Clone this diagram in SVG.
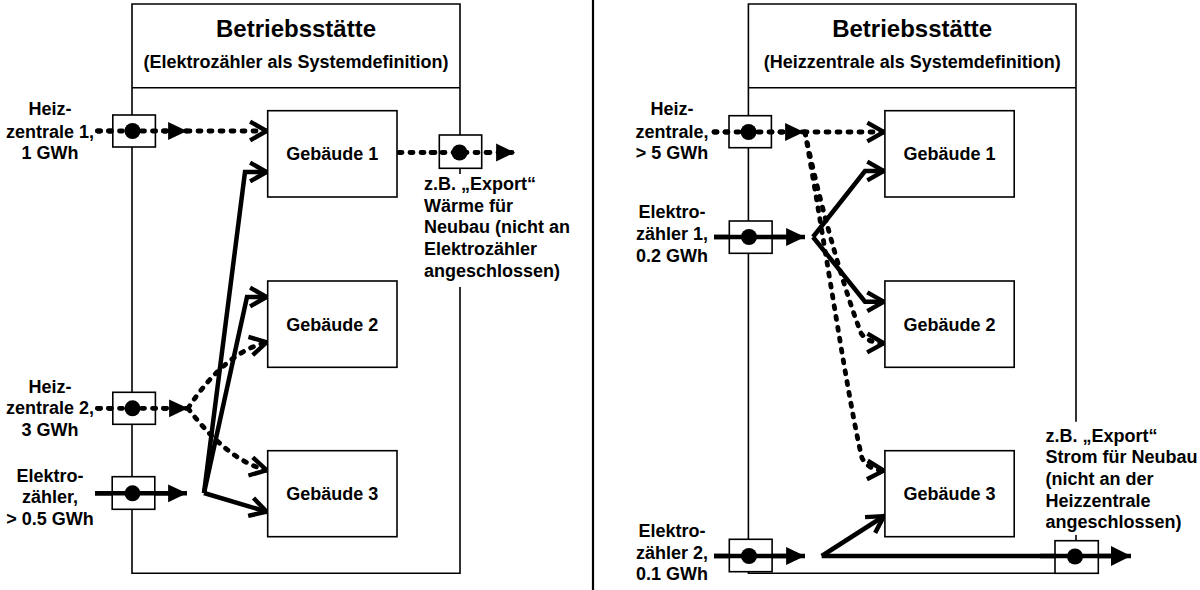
<svg xmlns="http://www.w3.org/2000/svg" width="1200" height="590" viewBox="0 0 1200 590">
<style>
text{font-family:"Liberation Sans",Arial,sans-serif;font-weight:bold;font-size:18px;fill:#000}
.title{font-size:24px}
.mid{text-anchor:middle}
.frame{fill:none;stroke:#000;stroke-width:1.6}
.box{fill:#fff;stroke:#000;stroke-width:1.6}
.dot{fill:#000}
.solid{fill:none;stroke:#000;stroke-width:4.5;stroke-linejoin:miter}
.dash{fill:none;stroke:#000;stroke-width:4.8;stroke-dasharray:3 8;stroke-linecap:round}
.tri{marker-end:url(#tri)}
.trib{marker-end:url(#trib)}
.chev{marker-end:url(#chev)}
</style>
<defs>
<marker id="tri" markerUnits="userSpaceOnUse" markerWidth="20" markerHeight="20" viewBox="0 0 18 18" refX="17" refY="9" orient="auto" overflow="visible">
<path d="M0,1 L17,9 L0,17 Z" fill="#000" stroke="none"/>
</marker>
<marker id="trib" markerUnits="userSpaceOnUse" markerWidth="22" markerHeight="22" viewBox="0 0 22 22" refX="20" refY="11" orient="auto" overflow="visible">
<path d="M0,1 L20,11 L0,21 Z" fill="#000" stroke="none"/>
</marker>
<marker id="chev" markerUnits="userSpaceOnUse" markerWidth="22" markerHeight="22" viewBox="0 0 20 20" refX="18" refY="10" orient="auto" overflow="visible">
<path d="M2,1.5 L17,10 L2,18.5" fill="none" stroke="#000" stroke-width="4" stroke-dasharray="none" stroke-linejoin="miter"/>
</marker>
</defs>

<line x1="593" y1="0" x2="593" y2="590" stroke="#000" stroke-width="2.2"/>

<g id="left-site">
<path class="frame" d="M460,135 L460,4 L132,4 L132,573.3 L460,573.3 L460,287"/>
<path class="frame" d="M460,168 L460,174"/>
<line class="frame" x1="132" y1="87.7" x2="460" y2="87.7"/>
<text class="title mid" x="296" y="37.3">Betriebsstätte</text>
<text class="mid" x="296" y="67.7">(Elektrozähler als Systemdefinition)</text>
</g>

<g id="right-site">
<path class="frame" d="M1076,421.7 L1076,4 L748.4,4 L748.4,573.3 L1076,573.3"/>
<path class="frame" d="M1076,535 L1076,541"/>
<line class="frame" x1="748.4" y1="87.7" x2="1076" y2="87.7"/>
<text class="title mid" x="912.2" y="37.3">Betriebsstätte</text>
<text class="mid" x="912.2" y="67.7">(Heizzentrale als Systemdefinition)</text>
</g>

<g id="connectors">
<!-- left panel -->
<path class="dash tri" d="M97.5,131 L187,131"/>
<path class="dash chev" d="M187,131 L267.7,131"/>
<path class="dash tri" d="M399,152.5 L515,152.5"/>
<path class="dash tri" d="M97.5,408.3 L188,408.3"/>
<path class="dash chev" d="M188,408.3 Q225,352 267.7,342"/>
<path class="dash chev" d="M188,408.3 Q228,461 267.7,470.5"/>
<path class="solid tri" d="M95,493.3 L187,493.3"/>
<path class="solid chev" d="M204,493 L245,172 L267.7,172"/>
<path class="solid chev" d="M204,493 L247,297 L267.7,297"/>
<path class="solid chev" d="M204,493 L267.7,512"/>
<!-- right panel -->
<path class="dash tri" d="M714,132 L804,132"/>
<path class="dash chev" d="M804,132 L884.9,132"/>
<path class="dash chev" d="M805,132 C822,215 848,300 861,333 Q867,343 884.9,343.3"/>
<path class="dash chev" d="M805,132 C826,250 848,400 862,458 Q868,470 884.9,470.7"/>
<path class="solid tri" d="M714,237 L805,237"/>
<path class="solid chev" d="M813,237 L865,171 L884.9,171"/>
<path class="solid chev" d="M813,237 L865,301.7 L884.9,301.7"/>
<path class="solid tri" d="M714,556 L805,556"/>
<path class="solid chev" d="M821.7,556 L884.9,515.5"/>
<path class="solid trib" d="M821.7,556 L1131,556"/>
</g>

<g id="left-heiz1">
<rect class="box" x="112.8" y="115" width="42.6" height="32"/>
<path class="dash" d="M97.5,131 L170,131"/>
<circle class="dot" cx="132.5" cy="131" r="8"/>
<text class="mid" x="50" y="115">Heiz-</text>
<text class="mid" x="50" y="137.7">zentrale 1,</text>
<text class="mid" x="50" y="159.3">1 GWh</text>
</g>

<g id="left-heiz2">
<rect class="box" x="112.8" y="392.3" width="42.6" height="32"/>
<path class="dash" d="M97.5,408.3 L170,408.3"/>
<circle class="dot" cx="132.5" cy="408.3" r="8"/>
<text class="mid" x="50" y="393.3">Heiz-</text>
<text class="mid" x="50" y="414.3">zentrale 2,</text>
<text class="mid" x="50" y="436">3 GWh</text>
</g>

<g id="left-elektro">
<rect class="box" x="112.2" y="476.7" width="42.6" height="32.6"/>
<path class="solid" d="M95,493.3 L172,493.3"/>
<circle class="dot" cx="132.5" cy="493.3" r="8"/>
<text class="mid" x="50" y="481.7">Elektro-</text>
<text class="mid" x="50" y="503.3">zähler,</text>
<text class="mid" x="50" y="525">&gt; 0.5 GWh</text>
</g>

<g id="left-export">
<rect class="box" x="439.3" y="135" width="42.4" height="33.3"/>
<path class="dash" d="M431,152.5 L497,152.5"/>
<circle class="dot" cx="459.5" cy="152.5" r="8"/>
<text x="424" y="190">z.B. „Export“</text>
<text x="424" y="211.7">Wärme für</text>
<text x="424" y="233.4">Neubau (nicht an</text>
<text x="424" y="255.1">Elektrozähler</text>
<text x="424" y="276.8">angeschlossen)</text>
</g>

<g id="left-geb1">
<rect class="box" x="267.7" y="110.7" width="129.3" height="86.3"/>
<text class="mid" x="332.3" y="160.3">Gebäude 1</text>
</g>
<g id="left-geb2">
<rect class="box" x="267.7" y="281" width="129.3" height="86.3"/>
<text class="mid" x="332.3" y="330.5">Gebäude 2</text>
</g>
<g id="left-geb3">
<rect class="box" x="267.7" y="450.7" width="129.3" height="86"/>
<text class="mid" x="332.3" y="500.3">Gebäude 3</text>
</g>

<g id="right-heiz">
<rect class="box" x="729" y="115.7" width="42.4" height="32"/>
<path class="dash" d="M714,132 L787,132"/>
<circle class="dot" cx="748.6" cy="132" r="8"/>
<text class="mid" x="672" y="115">Heiz-</text>
<text class="mid" x="672" y="137.7">zentrale,</text>
<text class="mid" x="672" y="159.3">&gt; 5 GWh</text>
</g>

<g id="right-elektro1">
<rect class="box" x="729.3" y="221" width="42.8" height="32.3"/>
<path class="solid" d="M714,237 L790,237"/>
<circle class="dot" cx="749" cy="237" r="8"/>
<text class="mid" x="672" y="218.3">Elektro-</text>
<text class="mid" x="672" y="240">zähler 1,</text>
<text class="mid" x="672" y="261.7">0.2 GWh</text>
</g>

<g id="right-elektro2">
<rect class="box" x="729.3" y="539.3" width="42.8" height="32.4"/>
<path class="solid" d="M714,556 L790,556"/>
<circle class="dot" cx="749" cy="556" r="8"/>
<text class="mid" x="672" y="536.7">Elektro-</text>
<text class="mid" x="672" y="559.3">zähler 2,</text>
<text class="mid" x="672" y="580">0.1 GWh</text>
</g>

<g id="right-export">
<rect class="box" x="1055" y="540.7" width="43.3" height="32.6"/>
<path class="solid" d="M1040,556 L1112,556"/>
<circle class="dot" cx="1075" cy="556.5" r="8"/>
<text x="1045.5" y="441.7">z.B. „Export“</text>
<text x="1045.5" y="463.3">Strom für Neubau</text>
<text x="1045.5" y="485">(nicht an der</text>
<text x="1045.5" y="506.6">Heizzentrale</text>
<text x="1045.5" y="528.3">angeschlossen)</text>
</g>

<g id="right-geb1">
<rect class="box" x="884.9" y="110.7" width="129.3" height="86.3"/>
<text class="mid" x="949.5" y="160.3">Gebäude 1</text>
</g>
<g id="right-geb2">
<rect class="box" x="884.9" y="281" width="129.3" height="86.3"/>
<text class="mid" x="949.5" y="330.5">Gebäude 2</text>
</g>
<g id="right-geb3">
<rect class="box" x="884.9" y="450.7" width="129.3" height="86"/>
<text class="mid" x="949.5" y="500.3">Gebäude 3</text>
</g>
</svg>
